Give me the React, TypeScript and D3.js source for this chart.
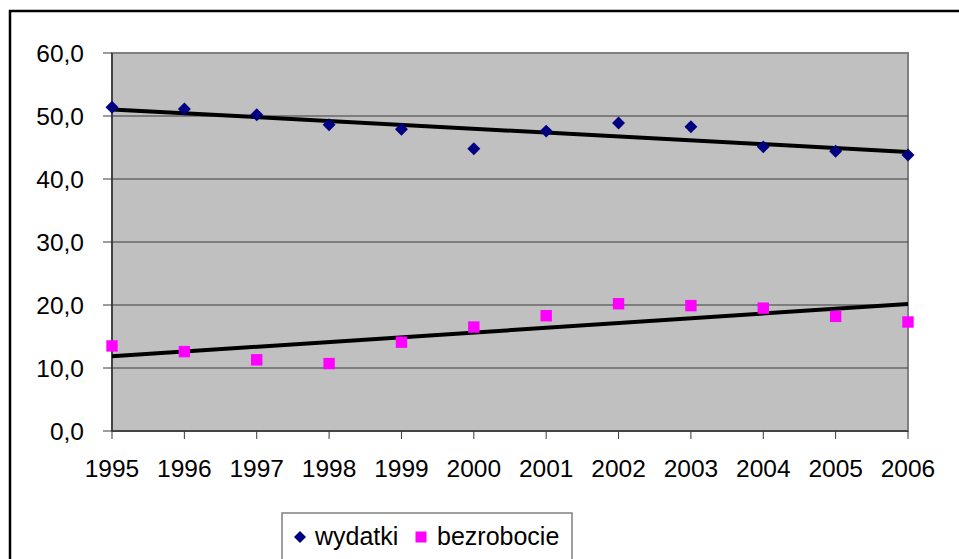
import React from "react";
import * as d3 from "d3";

const years = ["1995", "1996", "1997", "1998", "1999", "2000", "2001", "2002", "2003", "2004", "2005", "2006"];
const wydatki = [51.4, 51.1, 50.2, 48.6, 47.9, 44.8, 47.6, 48.9, 48.3, 45.1, 44.4, 43.8];
const bezrobocie = [13.5, 12.6, 11.3, 10.7, 14.1, 16.5, 18.3, 20.2, 19.9, 19.5, 18.2, 17.3];
const yTicks = [0, 10, 20, 30, 40, 50, 60];

const plFormat = d3.formatLocale({ decimal: ",", thousands: " ", grouping: [3], currency: ["", " zł"] }).format(".1f");

// least squares fit, like Excel's linear trendline
function trend(values: number[]) {
  const xs = values.map((_, i) => i);
  const mx = d3.mean(xs)!;
  const my = d3.mean(values)!;
  const slope = d3.sum(xs, (x, i) => (x - mx) * (values[i] - my)) / d3.sum(xs, (x) => (x - mx) ** 2);
  const b = my - slope * mx;
  return [0, values.length - 1].map((i) => ({ i, v: b + slope * i }));
}

export default function App() {
  const width = 959;
  const height = 559;
  const left = 112;
  const right = 908;
  const top = 53;
  const bottom = 431;
  const font = "'Liberation Sans', Arial, sans-serif";

  const x = d3.scalePoint<string>().domain(years).range([left, right]);
  const y = d3.scaleLinear().domain([0, 60]).range([bottom, top]);

  const line = d3
    .line<{ i: number; v: number }>()
    .x((d) => x(years[d.i])!)
    .y((d) => y(d.v));

  const diamond = d3.symbol(d3.symbolSquare, 84)()!;
  const square = d3.symbol(d3.symbolSquare, 130)()!;

  return (
    <svg width={width} height={height} style={{ position: "absolute", left: 0, top: 0, background: "#fff" }} fontFamily={font}>
      <rect x={10} y={11} width={width + 20} height={height + 20} fill="#fff" stroke="#000" strokeWidth={2.5} />

      {/* plot area */}
      <rect x={left} y={top} width={right - left} height={bottom - top} fill="#c0c0c0" stroke="#808080" strokeWidth={2} />

      {yTicks.map((t) => (
        <g key={t}>
          {t > 0 && t < 60 && <line x1={left} x2={right} y1={y(t)} y2={y(t)} stroke="#3a3a3a" strokeWidth={1} />}
          <line x1={left - 9} x2={left} y1={y(t)} y2={y(t)} stroke="#3a3a3a" strokeWidth={1} />
          <text x={84} y={y(t)} dy="0.36em" textAnchor="end" fontSize={24.5} fill="#000">
            {plFormat(t)}
          </text>
        </g>
      ))}

      <line x1={left} x2={left} y1={top} y2={bottom} stroke="#303030" strokeWidth={1.5} />
      <line x1={left} x2={right} y1={bottom} y2={bottom} stroke="#303030" strokeWidth={1.5} />

      {years.map((yr) => (
        <g key={yr}>
          <line x1={x(yr)} x2={x(yr)} y1={bottom} y2={bottom + 8} stroke="#3a3a3a" strokeWidth={1} />
          <text x={x(yr)} y={477} textAnchor="middle" fontSize={24.5} fill="#000">
            {yr}
          </text>
        </g>
      ))}

      {/* trend lines */}
      <path d={line(trend(wydatki))!} fill="none" stroke="#000" strokeWidth={4} />
      <path d={line(trend(bezrobocie))!} fill="none" stroke="#000" strokeWidth={4} />

      {wydatki.map((v, i) => (
        <path key={"w" + i} d={diamond} transform={`translate(${x(years[i])},${y(v)}) rotate(45)`} fill="#000080" />
      ))}
      {bezrobocie.map((v, i) => (
        <path key={"b" + i} d={square} transform={`translate(${x(years[i])},${y(v)})`} fill="#ff00ff" />
      ))}

      {/* legend */}
      <rect x={282} y={513} width={290} height={60} fill="#fff" stroke="#808080" strokeWidth={1.5} />
      <path d={d3.symbol(d3.symbolSquare, 72)()!} transform="translate(300,537) rotate(45)" fill="#000080" />
      <text x={315} y={545} fontSize={25} fill="#000">wydatki</text>
      <path d={d3.symbol(d3.symbolSquare, 121)()!} transform="translate(421,537)" fill="#ff00ff" />
      <text x={437} y={545} fontSize={25} fill="#000">bezrobocie</text>
    </svg>
  );
}
